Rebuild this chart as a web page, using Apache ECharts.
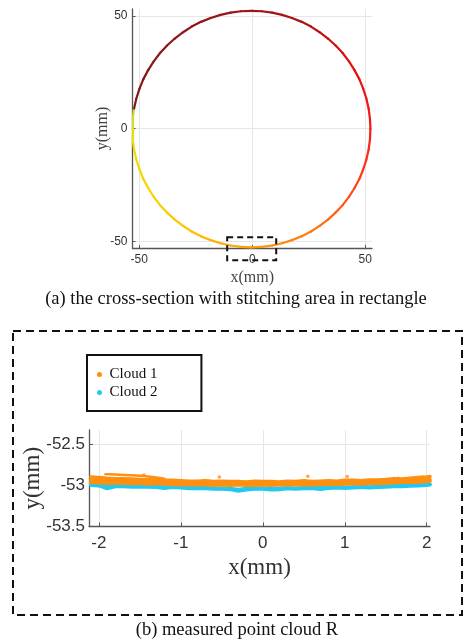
<!DOCTYPE html>
<html><head><meta charset="utf-8">
<script src="https://cdn.jsdelivr.net/npm/echarts@6/dist/echarts.min.js"></script>
<style>html,body{margin:0;padding:0;background:#fff}#c{width:467px;height:641px}</style>
</head><body><div id="c"></div>
<script>
// ---- (a) cross-section: points (mm), in scan order ----
const sectionX = [-52.3,-52.9,-53.1,-52.9,-52.3,-51.3,-49.9,-48.2,-46.0,-43.6,-40.8,-37.7,-34.3,-30.6,-26.8,-22.7,-18.4,-14.0,-9.6,-5.0,-0.4,4.2,8.8,13.2,17.6,21.9,26.0,29.8,33.5,36.9,40.0,42.8,45.2,47.4,49.1,50.5,51.5,52.1,52.3,52.1,51.5,50.5,49.1,47.4,45.2,42.8,40.0,36.9,33.5,29.8,26.0,21.9,17.6,13.2,8.8,4.2,-0.4,-5.0,-9.6,-14.0,-18.4,-22.7,-26.8,-30.6,-34.3,-37.7,-40.8,-43.6,-46.0,-48.2,-49.9,-51.3,-52.3];
const sectionY = [8.9,4.3,-0.25,-4.8,-9.4,-13.8,-18.2,-22.4,-26.5,-30.3,-34.0,-37.3,-40.4,-43.2,-45.7,-47.8,-49.5,-50.9,-51.9,-52.5,-52.7,-52.5,-51.9,-50.9,-49.5,-47.8,-45.7,-43.2,-40.4,-37.3,-34.0,-30.3,-26.5,-22.4,-18.2,-13.8,-9.4,-4.8,-0.25,4.3,8.9,13.3,17.7,21.9,26.0,29.8,33.5,36.8,39.9,42.7,45.2,47.3,49.0,50.4,51.4,52.0,52.2,52.0,51.4,50.4,49.0,47.3,45.2,42.7,39.9,36.8,33.5,29.8,26.0,21.9,17.7,13.3,8.9];
const sectionTicks = [-50, 0, 50];
const stitchBoxX = [-11.1, 10.6];
const stitchBoxY = [-58.4, -48.2];

// ---- (b) measured point cloud R ----
const cloudX = [-2.1,-2.0,-1.9,-1.8,-1.7,-1.6,-1.5,-1.4,-1.3,-1.2,-1.1,-1.0,-0.9,-0.8,-0.7,-0.6,-0.5,-0.4,-0.3,-0.2,-0.1,0,0.1,0.2,0.3,0.4,0.5,0.6,0.7,0.8,0.9,1.0,1.1,1.2,1.3,1.4,1.5,1.6,1.7,1.8,1.9,2.0,2.04];
const cloud1TraceA = [-52.9,-52.905,-52.915,-52.92,-52.92,-52.925,-52.93,-52.93,-52.935,-52.94,-52.94,-52.945,-52.95,-52.95,-52.945,-52.955,-52.95,-52.955,-52.955,-52.96,-52.95,-52.955,-52.955,-52.96,-52.95,-52.955,-52.945,-52.955,-52.95,-52.945,-52.95,-52.94,-52.94,-52.945,-52.935,-52.935,-52.93,-52.92,-52.925,-52.915,-52.905,-52.9,-52.895];
const cloud1TraceB = [-52.94,-52.945,-52.95,-52.95,-52.955,-52.955,-52.96,-52.965,-52.96,-52.965,-52.97,-52.97,-52.975,-52.97,-52.975,-52.98,-52.975,-52.98,-52.975,-52.98,-52.985,-52.98,-52.975,-52.98,-52.975,-52.98,-52.975,-52.97,-52.975,-52.97,-52.965,-52.97,-52.965,-52.96,-52.965,-52.955,-52.96,-52.95,-52.955,-52.945,-52.94,-52.935,-52.93];
const cloud1TraceC = [-52.965,-52.97,-52.975,-52.97,-52.975,-52.98,-52.98,-52.985,-52.98,-52.985,-52.99,-52.99,-52.995,-52.99,-52.995,-53.0,-52.995,-53.0,-52.995,-53.0,-53.0,-52.995,-53.0,-52.995,-52.99,-52.995,-52.99,-52.995,-52.99,-52.985,-52.99,-52.985,-52.98,-52.985,-52.975,-52.98,-52.975,-52.97,-52.965,-52.965,-52.96,-52.955,-52.95];
const cloud1StreakX = [-1.92,-1.8,-1.7,-1.6,-1.5,-1.45,-1.4,-1.3,-1.2];
const cloud1StreakY = [-52.865,-52.87,-52.875,-52.88,-52.885,-52.885,-52.895,-52.905,-52.92];
const cloud1StrayX = [-0.53, 0.55, 1.03, -1.45, 1.65, 1.95];
const cloud1StrayY = [-52.9, -52.89, -52.895, -52.875, -52.915, -52.9];
const cloud2TraceA = [-52.99,-52.995,-53.0,-53.005,-53.005,-53.01,-53.005,-53.01,-53.015,-53.02,-53.015,-53.02,-53.025,-53.025,-53.03,-53.035,-53.035,-53.04,-53.05,-53.04,-53.035,-53.035,-53.04,-53.035,-53.03,-53.035,-53.03,-53.025,-53.03,-53.025,-53.02,-53.025,-53.02,-53.015,-53.02,-53.015,-53.01,-53.005,-53.005,-53.0,-52.995,-52.99,-52.985];
const cloud2TraceB = [-53.0,-53.005,-53.04,-53.015,-53.015,-53.02,-53.02,-53.02,-53.025,-53.035,-53.025,-53.03,-53.04,-53.035,-53.04,-53.045,-53.045,-53.05,-53.07,-53.055,-53.045,-53.045,-53.055,-53.05,-53.04,-53.045,-53.04,-53.035,-53.05,-53.035,-53.03,-53.035,-53.03,-53.025,-53.03,-53.025,-53.02,-53.015,-53.015,-53.01,-53.005,-53.0,-52.995];
const cloudXTicks = [-2, -1, 0, 1, 2];
const cloudYTicks = [-53.5, -53, -52.5];

// ---- styling ----
const SANS = '"Liberation Sans", Arial, sans-serif';
const SERIF = '"Liberation Serif", "Times New Roman", serif';
const ORANGE = '#ff8f10';
const CYAN = '#22c8f0';
const colorStops = [[0,'#c8e030'],[0.04,'#f0e000'],[0.17,'#fcc800'],[0.28,'#ff9c00'],[0.36,'#ff7a10'],[0.44,'#ff4a18'],[0.53,'#f81818'],[0.62,'#e01212'],[0.72,'#a81414'],[0.85,'#931515'],[1,'#851816']];
function hex2rgb(h){return [parseInt(h.substr(1,2),16),parseInt(h.substr(3,2),16),parseInt(h.substr(5,2),16)];}
function colorAt(t){
  for (let i=1;i<colorStops.length;i++){
    if (t<=colorStops[i][0]){
      const a=colorStops[i-1], b=colorStops[i];
      const f=(t-a[0])/(b[0]-a[0]);
      const ca=hex2rgb(a[1]), cb=hex2rgb(b[1]);
      return 'rgb('+ca.map((v,k)=>Math.round(v+(cb[k]-v)*f)).join(',')+')';
    }
  }
  return colorStops[colorStops.length-1][1];
}
const segs = [];
for (let i=0;i<sectionX.length-1;i++){
  segs.push({coords:[[sectionX[i],sectionY[i]],[sectionX[i+1],sectionY[i+1]]], lineStyle:{color:colorAt(i/(sectionX.length-2))}});
}
const zip = (xs, ys) => xs.map((x,i)=>[x, ys[i]]);

const chart = echarts.init(document.getElementById('c'), null, {renderer:'canvas'});

const axisLineStyle = {color:'#555', width:1.3};
const splitStyle = {color:'#e6e6e6', width:1};

function cloudLine(name, ys, color, w, z){
  return {type:'line', name:name, xAxisIndex:1, yAxisIndex:1, data: zip(cloudX, ys), showSymbol:false, symbol:'circle',
    lineStyle:{color:color, width:w, cap:'round', join:'round'}, itemStyle:{color:color}, z:z, silent:true};
}

const option = {
  animation:false,
  backgroundColor:'#fff',
  grid:[
    {left:132.5, top:9, width:239.5, height:239, outerBoundsMode:'none', containLabel:false},
    {left:89, top:430, width:341, height:96.5, outerBoundsMode:'none', containLabel:false}
  ],
  legend:{
    data:[{name:'Cloud 1', icon:'circle'},{name:'Cloud 2', icon:'circle'}],
    left:87, top:355, orient:'vertical',
    itemWidth:10, itemHeight:5, itemGap:3,
    padding:[12,44,11,10],
    borderColor:'#111', borderWidth:2, backgroundColor:'#fff',
    textStyle:{fontFamily:SERIF, fontSize:15, color:'#111', lineHeight:15},
    selectedMode:false
  },
  xAxis:[
    {type:'value', gridIndex:0, min:-53, max:53,
     axisLine:{show:true, onZero:false, lineStyle:axisLineStyle},
     axisTick:{show:true, inside:true, length:3, customValues:sectionTicks, lineStyle:{color:'#555'}},
     axisLabel:{customValues:sectionTicks, fontFamily:SANS, fontSize:12, color:'#333', margin:6},
     splitLine:{show:true, lineStyle:splitStyle},
     name:'x(mm)', nameLocation:'middle', nameGap:22, nameMoveOverlap:false, nameTextStyle:{fontFamily:SERIF, fontSize:16, color:'#444'}},
    {type:'value', gridIndex:1, min:-2.12, max:2.04,
     axisLine:{show:true, onZero:false, lineStyle:axisLineStyle},
     axisTick:{show:true, inside:true, length:4, customValues:cloudXTicks, lineStyle:{color:'#555'}},
     axisLabel:{customValues:cloudXTicks, fontFamily:SANS, fontSize:17, color:'#333', margin:8},
     splitLine:{show:true, lineStyle:splitStyle},
     name:'x(mm)', nameLocation:'middle', nameGap:30, nameMoveOverlap:false, nameTextStyle:{fontFamily:SERIF, fontSize:23, color:'#333'}}
  ],
  yAxis:[
    {type:'value', gridIndex:0, min:-53, max:53,
     axisLine:{show:true, onZero:false, lineStyle:axisLineStyle},
     axisTick:{show:true, inside:true, length:3, customValues:sectionTicks, lineStyle:{color:'#555'}},
     axisLabel:{customValues:sectionTicks, fontFamily:SANS, fontSize:12, color:'#333', margin:5},
     splitLine:{show:true, lineStyle:splitStyle},
     name:'y(mm)', nameLocation:'middle', nameGap:22, nameMoveOverlap:false, nameTextStyle:{fontFamily:SERIF, fontSize:16, color:'#444'}},
    {type:'value', gridIndex:1, min:-53.5, max:-52.33,
     axisLine:{show:true, onZero:false, lineStyle:axisLineStyle},
     axisTick:{show:true, inside:true, length:4, customValues:cloudYTicks, lineStyle:{color:'#555'}},
     axisLabel:{customValues:cloudYTicks, fontFamily:SANS, fontSize:17, color:'#333', margin:4},
     splitLine:{show:true, lineStyle:splitStyle},
     name:'y(mm)', nameLocation:'middle', nameGap:45, nameMoveOverlap:false, nameTextStyle:{fontFamily:SERIF, fontSize:23, color:'#333'}}
  ],
  series:[
    {type:'lines', name:'section', coordinateSystem:'cartesian2d', xAxisIndex:0, yAxisIndex:0,
     data:segs, lineStyle:{width:2.2, opacity:1, cap:'round'}, silent:true, z:3},
    cloudLine('Cloud 2', cloud2TraceB, CYAN, 3.5, 2),
    cloudLine('Cloud 2', cloud2TraceA, CYAN, 3.5, 2),
    cloudLine('Cloud 1', cloud1TraceC, ORANGE, 3.5, 3),
    cloudLine('Cloud 1', cloud1TraceB, ORANGE, 3.5, 3),
    cloudLine('Cloud 1', cloud1TraceA, ORANGE, 3.5, 3),
    {type:'line', name:'Cloud 1', xAxisIndex:1, yAxisIndex:1, data:zip(cloud1StreakX, cloud1StreakY), showSymbol:false,
     lineStyle:{color:ORANGE, width:2.5, cap:'round'}, itemStyle:{color:ORANGE}, z:3, silent:true},
    {type:'scatter', name:'Cloud 1', xAxisIndex:1, yAxisIndex:1, data:zip(cloud1StrayX, cloud1StrayY), symbolSize:3.5,
     itemStyle:{color:ORANGE}, z:3, silent:true}
  ]
};
chart.setOption(option);

const p1 = chart.convertToPixel({gridIndex:0}, [stitchBoxX[0], stitchBoxY[1]]);
const p2 = chart.convertToPixel({gridIndex:0}, [stitchBoxX[1], stitchBoxY[0]]);
chart.setOption({
  graphic:[
    {type:'rect', shape:{x:p1[0], y:p1[1], width:p2[0]-p1[0], height:p2[1]-p1[1]}, style:{fill:null, stroke:'#111', lineWidth:2, lineDash:[6,4]}, z:10, silent:true},
    {type:'text', x:236, y:299, style:{text:'(a) the cross-section with stitching area in rectangle', font:'18.5px '+SERIF, fill:'#111', textAlign:'center', textVerticalAlign:'middle'}, silent:true},
    {type:'rect', shape:{x:13, y:331, width:449, height:284}, style:{fill:null, stroke:'#111', lineWidth:2, lineDash:[8,5]}, z:10, silent:true},
    {type:'text', x:237, y:630, style:{text:'(b) measured point cloud R', font:'18.5px '+SERIF, fill:'#111', textAlign:'center', textVerticalAlign:'middle'}, silent:true}
  ]
});
</script></body></html>
